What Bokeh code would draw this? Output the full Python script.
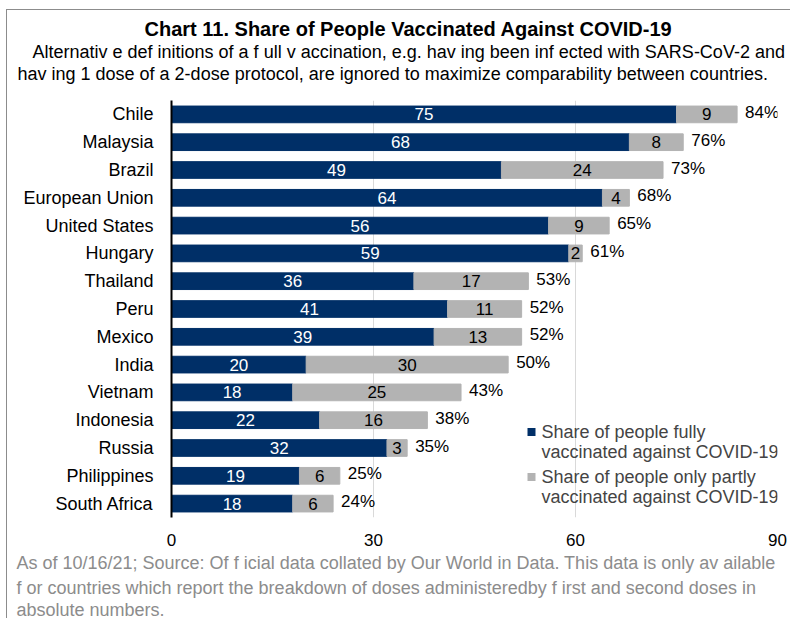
from bokeh.plotting import figure
from bokeh.models import Range1d, FixedTicker, Label, BoxAnnotation, ColumnDataSource, Title
from bokeh.core.properties import value
from bokeh.embed import file_html
from bokeh.resources import INLINE

countries = ["Chile", "Malaysia", "Brazil", "European Union", "United States", "Hungary",
             "Thailand", "Peru", "Mexico", "India", "Vietnam", "Indonesia", "Russia",
             "Philippines", "South Africa"]
fully = [75, 68, 49, 64, 56, 59, 36, 41, 39, 20, 18, 22, 32, 19, 18]
partly = [9, 8, 24, 4, 9, 2, 17, 11, 13, 30, 25, 16, 3, 6, 6]
x_ticks = [0, 30, 60, 90]

title = "Chart 11. Share of People Vaccinated Against COVID-19"
subtitle = ["Alternativ e def initions of a f ull v accination, e.g. hav ing been inf ected with SARS-CoV-2  and",
            "hav ing 1 dose of a 2-dose protocol, are  ignored to maximize comparability between countries."]
footer = ["As of 10/16/21; Source: Of f icial data collated by Our World in Data. This data is only av ailable",
          "f or countries which report the breakdown of doses administeredby f irst and second doses in",
          "absolute numbers."]
legend_labels = [["Share of people fully", "vaccinated against COVID-19"],
                 ["Share of people only partly", "vaccinated against COVID-19"]]

NAVY = "#002F67"
GREY = "#B3B3B3"
FONT = "Liberation Sans"

rows = list(range(len(countries)))
totals = [f + q for f, q in zip(fully, partly)]
src = ColumnDataSource(dict(
    y=rows,
    full=fully,
    part=partly,
    total=totals,
    full_mid=[f / 2 for f in fully],
    part_mid=[f + q / 2 for f, q in zip(fully, partly)],
    full_txt=[str(f) for f in fully],
    part_txt=[str(q) for q in partly],
    total_txt=[f"{t}%" for t in totals],
))

p = figure(width=784, height=609, output_backend="svg", toolbar_location=None,
           x_range=Range1d(0, 90), y_range=Range1d(14.5, -0.5),
           min_border_left=164, min_border_right=14, min_border_top=90, min_border_bottom=0)
p.styles = {"border-top": "1px solid #8c8c8c", "border-left": "1px solid #8c8c8c",
            "margin-top": "9px", "margin-left": "6px"}
p.outline_line_color = None
p.background_fill_color = "white"
p.border_fill_color = "white"

p.hbar(y="y", left=0, right="full", height=0.6, color=NAVY, source=src)
p.hbar(y="y", left="full", right="total", height=0.6, color=GREY, source=src)

p.text(x="full_mid", y="y", text="full_txt", source=src, text_color="white",
       text_align="center", text_baseline="middle", text_font=value(FONT), text_font_size="17px")
p.text(x="part_mid", y="y", text="part_txt", source=src, text_color="black",
       text_align="center", text_baseline="middle", text_font=value(FONT), text_font_size="17px")
p.text(x="total", y="y", text="total_txt", source=src, text_color="black", x_offset=8, y_offset=-2,
       text_align="left", text_baseline="middle", text_font=value(FONT), text_font_size="17px")

# axes
p.xaxis.ticker = FixedTicker(ticks=x_ticks)
p.xaxis.axis_line_color = None
p.xaxis.major_tick_line_color = None
p.xaxis.minor_tick_line_color = None
p.xaxis.major_label_standoff = 10
p.xaxis.major_label_text_font = FONT
p.xaxis.major_label_text_font_size = "17px"
p.xaxis.major_label_text_color = "black"

p.yaxis.ticker = FixedTicker(ticks=rows)
p.yaxis.major_label_overrides = {i: c for i, c in zip(rows, countries)}
p.yaxis.axis_line_color = "black"
p.yaxis.axis_line_width = 2
p.yaxis.major_tick_line_color = None
p.yaxis.minor_tick_line_color = None
p.yaxis.major_label_standoff = 12
p.yaxis.major_label_text_font = FONT
p.yaxis.major_label_text_font_size = "18px"
p.yaxis.major_label_text_color = "black"

p.xgrid.ticker = FixedTicker(ticks=x_ticks)
p.xgrid.grid_line_color = "#D9D9D9"
p.ygrid.grid_line_color = None

def title_obj(text, size="18px", style="normal", color="black", offset=0, standoff=0):
    return Title(text=text, text_font=FONT, text_font_size=size, text_font_style=style,
                 text_color=color, align="left", offset=offset, standoff=standoff)

# titles above: first added is nearest the frame (a blank spacer keeps the gap to the bars)
p.add_layout(title_obj(" ", size="10px", standoff=4), "above")
p.add_layout(title_obj(subtitle[1], offset=-154), "above")
p.add_layout(title_obj(subtitle[0], offset=-139), "above")
p.add_layout(title_obj(title, size="20px", style="bold", offset=-27), "above")

# footer below the x axis
for line, so in zip(footer, [5, 0, 0]):
    p.add_layout(title_obj(line, color="#8C8C8C", offset=-155, standoff=so), "below")

# legend (inside the frame, screen coords relative to the frame)
for (l1, l2), col, ytop in zip(legend_labels, [NAVY, GREY], [86, 41]):
    p.add_layout(BoxAnnotation(left=356, right=364, bottom=ytop - 4.5, top=ytop + 3.5,
                               left_units="screen", right_units="screen",
                               bottom_units="screen", top_units="screen",
                               fill_color=col, fill_alpha=1, line_color=None))
    p.add_layout(Label(x=370, y=ytop, x_units="screen", y_units="screen", text=l1,
                       text_font=FONT, text_font_size="18px", text_baseline="middle"))
    p.add_layout(Label(x=370, y=ytop - 20, x_units="screen", y_units="screen", text=l2,
                       text_font=FONT, text_font_size="18px", text_baseline="middle"))

open("out.html", "w").write(file_html(p, INLINE))
